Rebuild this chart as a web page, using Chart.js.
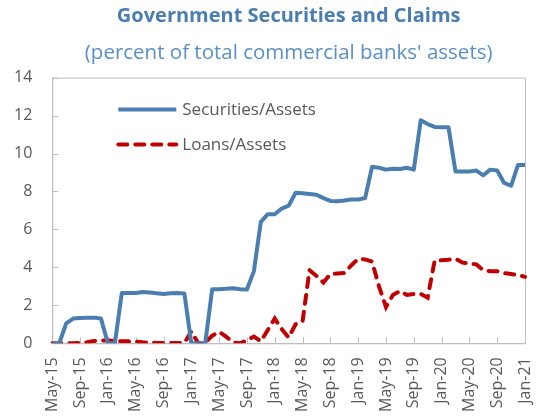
<!DOCTYPE html>
<html>
<head>
<meta charset="utf-8">
<script src="https://cdn.jsdelivr.net/npm/chart.js@4.4.1/dist/chart.umd.min.js"></script>
<style>
  html, body { margin: 0; padding: 0; background: #fff; }
  #wrap { width: 539px; height: 420px; }
</style>
</head>
<body>
<div id="wrap"><canvas id="chart"></canvas></div>
<script>
// meses (mayo 2015 - enero 2021)
const months = [
  'May-15', 'Jun-15', 'Jul-15', 'Aug-15', 'Sep-15', 'Oct-15', 'Nov-15', 'Dec-15',
  'Jan-16', 'Feb-16', 'Mar-16', 'Apr-16', 'May-16', 'Jun-16', 'Jul-16', 'Aug-16', 'Sep-16', 'Oct-16', 'Nov-16', 'Dec-16',
  'Jan-17', 'Feb-17', 'Mar-17', 'Apr-17', 'May-17', 'Jun-17', 'Jul-17', 'Aug-17', 'Sep-17', 'Oct-17', 'Nov-17', 'Dec-17',
  'Jan-18', 'Feb-18', 'Mar-18', 'Apr-18', 'May-18', 'Jun-18', 'Jul-18', 'Aug-18', 'Sep-18', 'Oct-18', 'Nov-18', 'Dec-18',
  'Jan-19', 'Feb-19', 'Mar-19', 'Apr-19', 'May-19', 'Jun-19', 'Jul-19', 'Aug-19', 'Sep-19', 'Oct-19', 'Nov-19', 'Dec-19',
  'Jan-20', 'Feb-20', 'Mar-20', 'Apr-20', 'May-20', 'Jun-20', 'Jul-20', 'Aug-20', 'Sep-20', 'Oct-20', 'Nov-20', 'Dec-20',
  'Jan-21'
];

const securitiesAssets = [
  0, 0, 1.05, 1.3, 1.33, 1.35, 1.35, 1.3, 0, 0,
  2.65, 2.65, 2.65, 2.7, 2.68, 2.63, 2.6, 2.63, 2.65, 2.62,
  0, 0, 0, 2.85, 2.85, 2.87, 2.9, 2.85, 2.83, 3.8,
  6.4, 6.8, 6.8, 7.1, 7.25, 7.93, 7.9, 7.87, 7.83, 7.65,
  7.5, 7.48, 7.52, 7.58, 7.58, 7.65, 9.3, 9.25, 9.15, 9.2,
  9.18, 9.25, 9.15, 11.75, 11.55, 11.4, 11.38, 11.38, 9.05, 9.05,
  9.05, 9.1, 8.85, 9.15, 9.1, 8.45, 8.3, 9.4, 9.4
];

const loansAssets = [
  0, 0, 0, 0, 0.02, 0.05, 0.12, 0.15, 0.15, 0.12,
  0.1, 0.1, 0.08, 0.05, 0.03, 0.02, 0.02, 0.02, 0.02, 0.02,
  0.62, 0, 0.02, 0.4, 0.6, 0.35, 0.05, 0, 0.15, 0.35,
  0.1, 0.7, 1.3, 0.75, 0.3, 1.0, 1.15, 3.85, 3.55, 3.2,
  3.65, 3.68, 3.7, 4.1, 4.45, 4.42, 4.3, 3.0, 1.9, 2.55,
  2.75, 2.55, 2.6, 2.6, 2.4, 4.35, 4.38, 4.4, 4.45, 4.25,
  4.2, 4.15, 3.85, 3.8, 3.8, 3.7, 3.65, 3.6, 3.5
];

const yTicks = [0, 2, 4, 6, 8, 10, 12, 14];
const xLabelStep = 4;

const FONT = '"Open Sans", "DejaVu Sans", sans-serif';
const GREY_TEXT = '#595959';
const AXIS_GREY = '#bfbfbf';
const CLEAR = 'rgba(0,0,0,0)';

// leyenda dentro del área del gráfico
const insideLegend = {
  id: 'insideLegend',
  afterDatasetsDraw(chart) {
    const { ctx, chartArea } = chart;
    chart.data.datasets.forEach((ds, i) => {
      const x = chartArea.left + 66;
      const y = chartArea.top + 32 + i * 35;
      ctx.save();
      ctx.strokeStyle = ds.borderColor;
      ctx.lineWidth = ds.borderWidth;
      ctx.lineCap = ds.borderCapStyle || 'butt';
      ctx.setLineDash(ds.borderDash || []);
      ctx.beginPath();
      ctx.moveTo(x, y);
      ctx.lineTo(x + 58, y);
      ctx.stroke();
      ctx.setLineDash([]);
      ctx.fillStyle = GREY_TEXT;
      ctx.font = '17px ' + FONT;
      ctx.textBaseline = 'middle';
      ctx.fillText(ds.label, x + 64, y + 1);
      ctx.restore();
    });
  }
};

// marco gris y marcas de graduación hacia dentro
const plotFrame = {
  id: 'plotFrame',
  beforeDatasetsDraw(chart) {
    const { ctx, chartArea, scales } = chart;
    ctx.save();
    ctx.strokeStyle = AXIS_GREY;
    ctx.lineWidth = 1;
    ctx.strokeRect(chartArea.left + 0.5, chartArea.top + 0.5, chartArea.width, chartArea.height);
    ctx.beginPath();
    yTicks.forEach(v => {
      const py = Math.round(scales.y.getPixelForValue(v)) + 0.5;
      ctx.moveTo(chartArea.left, py);
      ctx.lineTo(chartArea.left + 6, py);
    });
    months.forEach((m, i) => {
      if (i % xLabelStep !== 0) return;
      const px = Math.round(scales.x.getPixelForValue(i)) + 0.5;
      ctx.moveTo(px, chartArea.bottom);
      ctx.lineTo(px, chartArea.bottom - 6);
    });
    ctx.stroke();
    ctx.restore();
  }
};

new Chart(document.getElementById('chart'), {
  type: 'line',
  data: {
    labels: months,
    datasets: [
      {
        label: 'Securities/Assets',
        data: securitiesAssets,
        borderColor: '#4a7eb0',
        backgroundColor: '#4a7eb0',
        borderWidth: 4,
        borderJoinStyle: 'round',
        pointRadius: 0,
        tension: 0
      },
      {
        label: 'Loans/Assets',
        data: loansAssets,
        borderColor: '#c00000',
        backgroundColor: '#c00000',
        borderWidth: 4,
        borderDash: [9, 8],
        borderCapStyle: 'round',
        pointRadius: 0,
        tension: 0
      }
    ]
  },
  options: {
    responsive: true,
    maintainAspectRatio: false,
    animation: false,
    layout: { padding: { left: 14, right: 14, top: 0, bottom: 8 } },
    plugins: {
      legend: { display: false },
      tooltip: { enabled: false },
      title: {
        display: true,
        fullSize: false,
        text: 'Government Securities and Claims',
        color: '#4a7eb0',
        font: { family: FONT, size: 20, weight: 'bold' },
        padding: { top: 4, bottom: 2 }
      },
      subtitle: {
        display: true,
        fullSize: false,
        text: "(percent of total commercial banks' assets)",
        color: '#5b8fc5',
        font: { family: FONT, size: 20.5 },
        padding: { top: 11, bottom: 12 }
      }
    },
    scales: {
      x: {
        type: 'category',
        offset: false,
        border: { display: true, color: AXIS_GREY, width: 1 },
        grid: { drawOnChartArea: false, tickLength: 14, tickColor: CLEAR },
        ticks: {
          autoSkip: false,
          maxRotation: 90,
          minRotation: 90,
          padding: 0,
          color: GREY_TEXT,
          font: { family: FONT, size: 16, lineHeight: 0.85 },
          callback: function (value, index) {
            return index % xLabelStep === 0 ? this.getLabelForValue(value) : '';
          }
        }
      },
      y: {
        min: yTicks[0],
        max: yTicks[yTicks.length - 1],
        border: { display: true, color: AXIS_GREY, width: 1 },
        grid: { drawOnChartArea: false, tickLength: 20, tickColor: CLEAR },
        afterBuildTicks: (axis) => { axis.ticks = yTicks.map(v => ({ value: v })); },
        ticks: {
          padding: 0,
          color: GREY_TEXT,
          font: { family: FONT, size: 16 }
        }
      }
    }
  },
  plugins: [plotFrame, insideLegend]
});
</script>
</body>
</html>
